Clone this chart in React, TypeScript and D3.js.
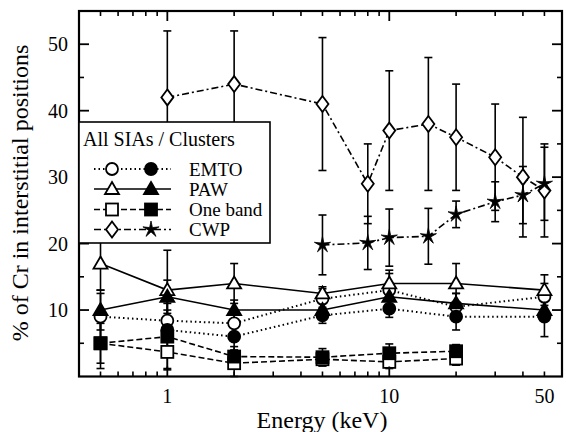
import React from "react";
import * as d3 from "d3";

// energies (keV)
const energyFull = [0.5, 1, 2, 5, 10, 20, 50];
const energyEmtoCl = [1, 2, 5, 10, 20, 50];
const energyOneBand = [0.5, 1, 2, 5, 10, 20];
const energyCwpAll = [1, 2, 5, 8, 10, 15, 20, 30, 40, 50];
const energyCwpCl = [5, 8, 10, 15, 20, 30, 40, 50];

// % of Cr in interstitial positions, with symmetric error bars
const emtoAll = [9, 8.4, 8, 11.7, 13, 10.5, 12];
const emtoAllErr = [3.5, 3, 2, 1.5, 2.5, 2, 2];
const emtoCl = [7, 6, 9.2, 10.2, 9, 9];
const emtoClErr = [3, 2.5, 1.2, 1.3, 2, 3];
const pawAll = [17, 13, 14, 12.5, 14, 14, 13];
const pawAllErr = [4, 6, 3, 1, 2, 3, 2.3];
const pawCl = [10, 12, 10, 10, 12, 11, 10];
const pawClErr = [3, 2.5, 1.5, 1, 1.5, 1.5, 1.5];
const oneBandAll = [5, 3.7, 2, 2.6, 2.2, 2.7];
const oneBandAllErr = [3.8, 2.5, 2, 1, 1, 1];
const oneBandCl = [5, 6, 3, 2.9, 3.5, 3.8];
const oneBandClErr = [3, 5, 1.5, 1.3, 1.4, 1];
const cwpAll = [42, 44, 41, 29, 37, 38, 36, 33, 30, 28];
const cwpAllErr = [10, 8, 10, 6, 9, 10, 8, 8, 9, 7];
const cwpCl = [19.8, 20.1, 20.9, 21.1, 24.4, 26.3, 27.3, 29];
const cwpClErr = [4.5, 4, 4.3, 4.2, 2, 3, 4.3, 5.5];

const xMajor = [1, 10];
const xLabels = [1, 10, 50];
const xMinor = [0.5, 0.6, 0.7, 0.8, 0.9, 2, 3, 4, 5, 6, 7, 8, 9, 20, 30, 40, 50];
const yMajor = [10, 20, 30, 40, 50];
const yMinor = [5, 15, 25, 35, 45, 55];

const legendNames = ["EMTO", "PAW", "One band", "CWP"];

const serif = "Liberation Serif";

const DOTTED = "1.5 3";
const DASHED = "6 3";
const DASHDOT = "7 3 2 3";

// thin-armed star
function starPath(r) {
	const pts = [];
	for (let i = 0; i < 10; i++) {
		const a = (Math.PI / 5) * i - Math.PI / 2;
		const rr = i % 2 === 0 ? r : r * 0.28;
		pts.push([Math.cos(a) * rr, Math.sin(a) * rr]);
	}
	return d3.line()(pts) + "Z";
}

function Marker({ kind, filled, cx, cy }) {
	const fill = filled ? "#000" : "#fff";
	const sw = 1.8;
	if (kind === "circle")
		return <circle cx={cx} cy={cy} r={6} fill={fill} stroke="#000" strokeWidth={sw} />;
	if (kind === "triangle") {
		const p = d3.line()([
			[cx, cy - 7],
			[cx + 7, cy + 5],
			[cx - 7, cy + 5],
		]);
		return <path d={p + "Z"} fill={fill} stroke="#000" strokeWidth={sw} />;
	}
	if (kind === "square")
		return <rect x={cx - 6} y={cy - 6} width={12} height={12} fill={fill} stroke="#000" strokeWidth={sw} />;
	if (kind === "diamond") {
		const p = d3.line()([
			[cx, cy - 8],
			[cx + 6, cy],
			[cx, cy + 8],
			[cx - 6, cy],
		]);
		return <path d={p + "Z"} fill={fill} stroke="#000" strokeWidth={sw} />;
	}
	return <path d={starPath(8.5)} transform={`translate(${cx},${cy})`} fill="#000" stroke="#000" strokeWidth={0.8} />;
}

const App = () => {
	const width = 566;
	const height = 432;
	const left = 79;
	const right = 562;
	const top = 11;
	const bottom = 376.5;

	const x = d3.scaleLog().domain([0.4, 60]).range([left, right]);
	const y = d3.scaleLinear().domain([0, 55]).range([bottom, top]);

	const series = [
		{ xs: energyFull, vs: emtoAll, es: emtoAllErr, kind: "circle", filled: false, dash: DOTTED },
		{ xs: energyEmtoCl, vs: emtoCl, es: emtoClErr, kind: "circle", filled: true, dash: DOTTED },
		{ xs: energyFull, vs: pawAll, es: pawAllErr, kind: "triangle", filled: false, dash: null },
		{ xs: energyFull, vs: pawCl, es: pawClErr, kind: "triangle", filled: true, dash: null },
		{ xs: energyOneBand, vs: oneBandAll, es: oneBandAllErr, kind: "square", filled: false, dash: DASHED },
		{ xs: energyOneBand, vs: oneBandCl, es: oneBandClErr, kind: "square", filled: true, dash: DASHED },
		{ xs: energyCwpAll, vs: cwpAll, es: cwpAllErr, kind: "diamond", filled: false, dash: DASHDOT },
		{ xs: energyCwpCl, vs: cwpCl, es: cwpClErr, kind: "star", filled: true, dash: DASHDOT },
	];

	const line = d3
		.line()
		.x((d) => x(d[0]))
		.y((d) => y(d[1]));

	const legendX = 79;
	const legendY = 122;
	const legendW = 191;
	const legendH = 121;
	const rowY = [169, 189, 209.5, 229.5];
	const legendKinds = ["circle", "triangle", "square", "diamond"];
	const legendDash = [DOTTED, null, DASHED, DASHDOT];

	return (
		<svg width={width} height={height} style={{ position: "absolute", left: 0, top: 0, background: "#fff" }}>
			{/* error bars */}
			{series.map((s, si) =>
				s.xs.map((e, i) => {
					const cx = x(e);
					const y1 = y(s.vs[i] + s.es[i]);
					const y2 = y(Math.max(0, s.vs[i] - s.es[i]));
					return (
						<g key={`eb${si}-${i}`} stroke="#000" strokeWidth={1.6}>
							<line x1={cx} x2={cx} y1={y1} y2={y2} />
							<line x1={cx - 4} x2={cx + 4} y1={y1} y2={y1} />
							<line x1={cx - 4} x2={cx + 4} y1={y2} y2={y2} />
						</g>
					);
				})
			)}
			{/* lines */}
			{series.map((s, si) => (
				<path
					key={`ln${si}`}
					d={line(s.xs.map((e, i) => [e, s.vs[i]]))}
					fill="none"
					stroke="#000"
					strokeWidth={s.dash === DOTTED ? 2 : 1.6}
					strokeDasharray={s.dash || undefined}
				/>
			))}
			{/* markers */}
			{series.map((s, si) =>
				s.xs.map((e, i) => (
					<Marker key={`mk${si}-${i}`} kind={s.kind} filled={s.filled} cx={x(e)} cy={y(s.vs[i])} />
				))
			)}

			{/* frame and ticks */}
			<rect x={left} y={top} width={right - left} height={bottom - top} fill="none" stroke="#000" strokeWidth={2.2} />
			{xMajor.map((t) => (
				<g key={`xM${t}`} stroke="#000" strokeWidth={1.8}>
					<line x1={x(t)} x2={x(t)} y1={bottom} y2={bottom - 10} />
					<line x1={x(t)} x2={x(t)} y1={top} y2={top + 10} />
				</g>
			))}
			{xMinor.map((t) => (
				<g key={`xm${t}`} stroke="#000" strokeWidth={1.6}>
					<line x1={x(t)} x2={x(t)} y1={bottom} y2={bottom - 5} />
					<line x1={x(t)} x2={x(t)} y1={top} y2={top + 5} />
				</g>
			))}
			{yMajor.map((t) => (
				<g key={`yM${t}`} stroke="#000" strokeWidth={1.8}>
					<line x1={left} x2={left + 10} y1={y(t)} y2={y(t)} />
					<line x1={right} x2={right - 10} y1={y(t)} y2={y(t)} />
				</g>
			))}
			{yMinor.map((t) => (
				<g key={`ym${t}`} stroke="#000" strokeWidth={1.6}>
					<line x1={left} x2={left + 5} y1={y(t)} y2={y(t)} />
					<line x1={right} x2={right - 5} y1={y(t)} y2={y(t)} />
				</g>
			))}
			{xLabels.map((t) => (
				<text key={`xl${t}`} x={x(t)} y={403} textAnchor="middle" fontSize={20} fontFamily={serif}>
					{t}
				</text>
			))}
			{yMajor.map((t) => (
				<text key={`yl${t}`} x={68} y={y(t)} dy="0.35em" textAnchor="end" fontSize={20} fontFamily={serif}>
					{t}
				</text>
			))}
			<text x={322} y={428} textAnchor="middle" fontSize={24} fontFamily={serif}>
				Energy (keV)
			</text>
			<text transform="translate(28,193) rotate(-90)" textAnchor="middle" fontSize={24} fontFamily={serif}>
				% of Cr in interstitial positions
			</text>

			{/* legend */}
			<rect x={legendX} y={legendY} width={legendW} height={legendH} fill="#fff" stroke="#000" strokeWidth={1.6} />
			<text x={83} y={146} fontSize={20} fontFamily={serif}>
				All SIAs / Clusters
			</text>
			{legendNames.map((name, i) => (
				<g key={`lg${name}`}>
					<line
						x1={94}
						x2={171}
						y1={rowY[i]}
						y2={rowY[i]}
						stroke="#000"
						strokeWidth={legendDash[i] === DOTTED ? 2 : 1.6}
						strokeDasharray={legendDash[i] || undefined}
					/>
					<Marker kind={legendKinds[i]} filled={false} cx={112} cy={rowY[i]} />
					<Marker kind={i === 3 ? "star" : legendKinds[i]} filled={true} cx={151} cy={rowY[i]} />
					<text x={189} y={rowY[i]} dy="0.35em" fontSize={19} fontFamily={serif}>
						{name}
					</text>
				</g>
			))}
		</svg>
	);
};

export default App;
